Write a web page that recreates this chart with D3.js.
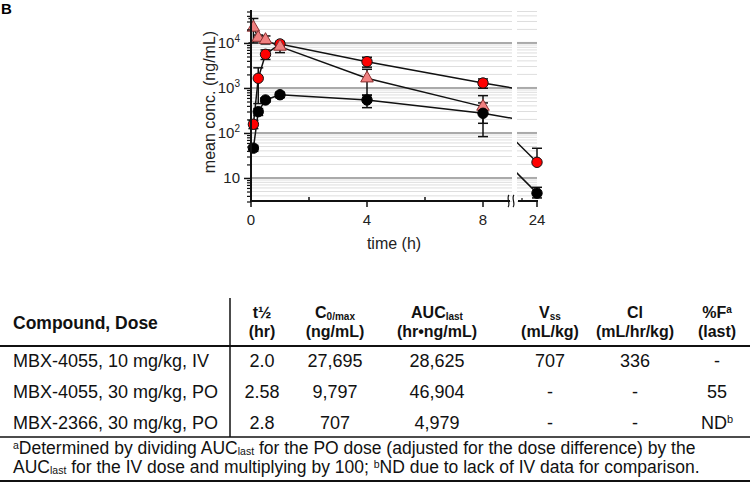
<!DOCTYPE html>
<html><head><meta charset="utf-8">
<script src="https://cdn.jsdelivr.net/npm/d3@7/dist/d3.min.js"></script>
<style>body{margin:0;background:#fff}svg{display:block;font-family:Arial,"Liberation Sans",sans-serif}</style>
</head><body><svg id="c" width="750" height="490"></svg>
<script>
// ---- chart data ----
const timesPO = [0.083, 0.25, 0.5, 1, 4, 8, 24];
const timesIV = [0.083, 0.25, 0.5, 1, 4, 8];
const ivMean = [22000, 13100, 11700, 8300, 1640, 385];
const ivLow  = [10000, 11200, 9500, 6100, 700, 164];
const ivHigh = [35000, 15000, 14300, 10000, 2600, 675];
const poMean = [156, 1640, 5600, 9500, 3840, 1290, 22.3];
const poLow  = [125, 450, 4300, 8000, 2900, 985, null];
const poHigh = [190, 2800, 7000, 10800, 4810, 1585, 45.7];
const m2Mean = [46, 297, 541, 707, 541, 274, 4.6];
const m2Low  = [39, 245, 480, 610, 365, 83, 3.6];
const m2High = [53, 350, 605, 800, 675, 465, 6.2];
const xMajorTicks = [0, 4, 8];
const xMinorTicks = [2, 6];
const xTicks2 = [24];
const yDecades = [10, 100, 1000, 10000];
const yDecadeLabels = [["10",""],["10","2"],["10","3"],["10","4"]];

// ---- table data ----
const compounds = ["MBX-4055, 10 mg/kg, IV", "MBX-4055, 30 mg/kg, PO", "MBX-2366, 30 mg/kg, PO"];
const halfLife = ["2.0", "2.58", "2.8"];
const cmax = ["27,695", "9,797", "707"];
const auc = ["28,625", "46,904", "4,979"];
const vss = ["707", "-", "-"];
const cl = ["336", "-", "-"];
const pctF = [["-",""], ["55",""], ["ND","b"]];

const svg = d3.select("#c");

// scales
const y = d3.scaleLog().domain([3, 50000]).range([201.5, 11.5]);
const x1 = d3.scaleLinear().domain([0, 9]).range([251, 512]);
const x2 = d3.scaleLinear().domain([20, 24]).range([517, 537]);
const xp = t => t <= 9 ? x1(t) : x2(t);

// grid values
const gridVals = [];
[1, 10, 100, 1000, 10000].forEach(d => { for (let k = 1; k <= 9; k++) { const v = d * k; if (v >= 3 && v <= 50000) gridVals.push(v); } });

const gGrid = svg.append("g");
[[x1, 251, 512], [x2, 517, 537]].forEach(([s, a, b]) => {
  gGrid.selectAll(null).data(gridVals).enter().append("line")
    .attr("x1", a).attr("x2", b)
    .attr("y1", d => y(d)).attr("y2", d => y(d))
    .attr("stroke", d => yDecades.includes(d) ? "#aaaaaa" : "#dedede")
    .attr("stroke-width", d => yDecades.includes(d) ? 2 : 1);
});

// clip paths
const defs = svg.append("defs");
defs.append("clipPath").attr("id", "s1").append("rect").attr("x", 251).attr("y", 0).attr("width", 261).attr("height", 210);
defs.append("clipPath").attr("id", "s2").append("rect").attr("x", 517).attr("y", 0).attr("width", 30).attr("height", 210);

// lines
const series = [
  {t: timesPO, m: poMean},
  {t: timesIV, m: ivMean},
  {t: timesPO, m: m2Mean}
];
[[x1, "s1"], [x2, "s2"]].forEach(([s, id]) => {
  const g = svg.append("g").attr("clip-path", `url(#${id})`);
  series.forEach(se => {
    const line = d3.line().x((d, i) => s(se.t[i])).y(d => y(d));
    g.append("path").attr("d", line(se.m)).attr("fill", "none").attr("stroke", "#111").attr("stroke-width", 1.5);
  });
});

// error bars
function errBars(t, m, lo, hi) {
  const g = svg.append("g").attr("stroke", "#111").attr("stroke-width", 1.5);
  t.forEach((tt, i) => {
    const cx = xp(tt);
    const top = y(hi[i]);
    const bot = lo[i] == null ? y(m[i]) : y(lo[i]);
    g.append("line").attr("x1", cx).attr("x2", cx).attr("y1", top).attr("y2", bot);
    g.append("line").attr("x1", cx - 5).attr("x2", cx + 5).attr("y1", top).attr("y2", top);
    if (lo[i] != null) g.append("line").attr("x1", cx - 5).attr("x2", cx + 5).attr("y1", bot).attr("y2", bot);
  });
}
errBars(timesPO, poMean, poLow, poHigh);
errBars(timesIV, ivMean, ivLow, ivHigh);
errBars(timesPO, m2Mean, m2Low, m2High);

// markers
svg.append("g").selectAll("circle").data(poMean).enter().append("circle")
  .attr("cx", (d, i) => xp(timesPO[i])).attr("cy", d => y(d)).attr("r", 5.2)
  .attr("fill", "#ff0000").attr("stroke", "#111").attr("stroke-width", 1);
const tri = d3.symbol().type(d3.symbolTriangle).size(68);
svg.append("g").selectAll("path").data(ivMean).enter().append("path")
  .attr("d", tri).attr("transform", (d, i) => `translate(${xp(timesIV[i])},${y(d)})`)
  .attr("fill", "#f08080").attr("stroke", "#8b3030").attr("stroke-width", 1);
svg.append("g").selectAll("circle").data(m2Mean).enter().append("circle")
  .attr("cx", (d, i) => xp(timesPO[i])).attr("cy", d => y(d)).attr("r", 5.2)
  .attr("fill", "#000").attr("stroke", "#000").attr("stroke-width", 1);

// y axis
const minorY = gridVals.filter(v => !yDecades.includes(v));
svg.append("g").attr("transform", "translate(251,0)")
  .call(d3.axisLeft(y).tickValues(minorY).tickSize(4).tickFormat(""))
  .call(g => g.select(".domain").remove())
  .selectAll("line").attr("stroke", "#111").attr("stroke-width", 1.2);
const yMaj = svg.append("g").attr("transform", "translate(251,0)")
  .call(d3.axisLeft(y).tickValues(yDecades).tickSize(7).tickFormat(""));
yMaj.select(".domain").remove();
yMaj.selectAll("line").attr("stroke", "#111").attr("stroke-width", 1.5);
svg.append("line").attr("x1", 251).attr("x2", 251).attr("y1", 10).attr("y2", 202).attr("stroke", "#111").attr("stroke-width", 2);
yDecades.forEach((v, i) => {
  const t = svg.append("text").attr("x", 240).attr("y", y(v) + 5).attr("text-anchor", "end")
    .attr("font-size", 15).attr("fill", "#222");
  t.append("tspan").text(yDecadeLabels[i][0]);
  if (yDecadeLabels[i][1]) t.append("tspan").attr("font-size", 10).attr("dy", -6).text(yDecadeLabels[i][1]);
});
svg.append("text").attr("transform", "translate(215,102) rotate(-90)").attr("text-anchor", "middle")
  .attr("font-size", 16).attr("fill", "#222").text("mean conc. (ng/mL)");

// x axis
const xa = svg.append("g").attr("stroke", "#111");
xa.append("line").attr("x1", 250).attr("x2", 510).attr("y1", 201).attr("y2", 201).attr("stroke-width", 2);
xa.append("line").attr("x1", 518).attr("x2", 538).attr("y1", 201).attr("y2", 201).attr("stroke-width", 2);
xMajorTicks.forEach(v => xa.append("line").attr("x1", x1(v)).attr("x2", x1(v)).attr("y1", 201).attr("y2", 207).attr("stroke-width", 1.5));
xMinorTicks.forEach(v => xa.append("line").attr("x1", x1(v)).attr("x2", x1(v)).attr("y1", 197).attr("y2", 201).attr("stroke-width", 1.5));
xTicks2.forEach(v => xa.append("line").attr("x1", x2(v)).attr("x2", x2(v)).attr("y1", 201).attr("y2", 207).attr("stroke-width", 1.5));
xa.append("line").attr("x1", x2(21)).attr("x2", x2(21)).attr("y1", 198).attr("y2", 201).attr("stroke-width", 1.2);
// break marks
[508, 513].forEach(bx => {
  xa.append("path").attr("d", `M${bx + 1},195 C${bx - 2},198 ${bx + 3},204 ${bx},207`).attr("fill", "none").attr("stroke-width", 1.2);
});
xMajorTicks.forEach(v => svg.append("text").attr("x", x1(v)).attr("y", 225).attr("text-anchor", "middle").attr("font-size", 15).attr("fill", "#222").text(v));
xTicks2.forEach(v => svg.append("text").attr("x", x2(v)).attr("y", 225).attr("text-anchor", "middle").attr("font-size", 15).attr("fill", "#222").text(v));
svg.append("text").attr("x", 394).attr("y", 249).attr("text-anchor", "middle").attr("font-size", 16).attr("fill", "#222").text("time (h)");

// panel letter
svg.append("text").attr("x", 1).attr("y", 14).attr("font-size", 15).attr("font-weight", "bold").text("B");

// ---- table ----
const tb = svg.append("g").attr("fill", "#111");
const colX = [262, 335, 437, 550, 635, 717];
function hdr(cx, y1, main, sub, subType, line2) {
  const t = tb.append("text").attr("x", cx).attr("y", y1).attr("text-anchor", "middle").attr("font-size", 16).attr("font-weight", "bold");
  t.append("tspan").text(main);
  if (sub) t.append("tspan").attr("font-size", 10).attr("dy", subType === "sub" ? 2 : -5).text(sub);
  tb.append("text").attr("x", cx).attr("y", y1 + 19).attr("text-anchor", "middle").attr("font-size", 16).attr("font-weight", "bold").text(line2);
}
tb.append("text").attr("x", 13).attr("y", 329).attr("font-size", 17.5).attr("font-weight", "bold").text("Compound, Dose");
hdr(colX[0], 318, "t½", "", "", "(hr)");
hdr(colX[1], 318, "C", "0/max", "sub", "(ng/mL)");
hdr(colX[2], 318, "AUC", "last", "sub", "(hr•ng/mL)");
hdr(colX[3], 318, "V", "ss", "sub", "(mL/kg)");
hdr(colX[4], 318, "Cl", "", "", "(mL/hr/kg)");
hdr(colX[5], 318, "%F", "a", "sup", "(last)");

const rowY = [367, 398, 429];
const cols = [halfLife, cmax, auc, vss, cl];
compounds.forEach((c, i) => {
  tb.append("text").attr("x", 13).attr("y", rowY[i]).attr("font-size", 18).text(c);
  cols.forEach((arr, j) => tb.append("text").attr("x", colX[j]).attr("y", rowY[i]).attr("text-anchor", "middle").attr("font-size", 18).text(arr[i]));
  const t = tb.append("text").attr("x", colX[5]).attr("y", rowY[i]).attr("text-anchor", "middle").attr("font-size", 18);
  t.append("tspan").text(pctF[i][0]);
  if (pctF[i][1]) t.append("tspan").attr("font-size", 11).attr("dy", -6).text(pctF[i][1]);
});

// rules
tb.append("line").attr("x1", 0).attr("x2", 750).attr("y1", 346).attr("y2", 346).attr("stroke", "#111").attr("stroke-width", 2);
tb.append("line").attr("x1", 0).attr("x2", 750).attr("y1", 437).attr("y2", 437).attr("stroke", "#111").attr("stroke-width", 1.5);
tb.append("line").attr("x1", 0).attr("x2", 750).attr("y1", 481).attr("y2", 481).attr("stroke", "#111").attr("stroke-width", 2);
tb.append("line").attr("x1", 230).attr("x2", 230).attr("y1", 298).attr("y2", 437).attr("stroke", "#111").attr("stroke-width", 1.5);

// footnote
const f1 = tb.append("text").attr("x", 13).attr("y", 454).attr("font-size", 17.5);
f1.append("tspan").attr("font-size", 10.5).attr("dy", -5).text("a");
f1.append("tspan").attr("dy", 5).text("Determined by dividing AUC");
f1.append("tspan").attr("font-size", 10.5).attr("dy", 1).text("last");
f1.append("tspan").attr("dy", -1).text(" for the PO dose (adjusted for the dose difference) by the");
const f2 = tb.append("text").attr("x", 13).attr("y", 473).attr("font-size", 17.5);
f2.append("tspan").text("AUC");
f2.append("tspan").attr("font-size", 10.5).attr("dy", 1).text("last");
f2.append("tspan").attr("dy", -1).text(" for the IV dose and multiplying by 100; ");
f2.append("tspan").attr("font-size", 10.5).attr("dy", -5).text("b");
f2.append("tspan").attr("dy", 5).text("ND due to lack of IV data for comparison.");
</script></body></html>
